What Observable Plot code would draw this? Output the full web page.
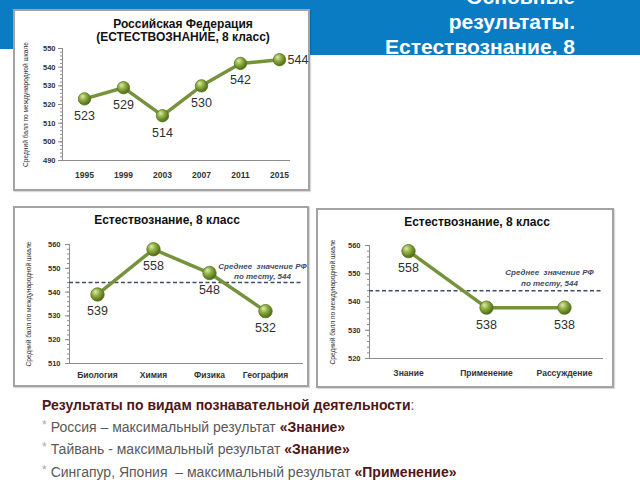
<!DOCTYPE html>
<html><head><meta charset="utf-8">
<script src="https://cdn.jsdelivr.net/npm/d3@7"></script>
<script src="https://cdn.jsdelivr.net/npm/@observablehq/plot@0.6"></script>
<style>
html,body{margin:0;padding:0}
body{width:640px;height:480px;position:relative;overflow:hidden;background:#fff;font-family:Arial,"Liberation Sans",sans-serif}
.blue{position:absolute;background:#0a7cc3}
.panel{position:absolute;box-sizing:border-box;border:2px solid #a3a3a3;background:#fff;box-shadow:1px 1px 1px rgba(0,0,0,.15)}
.ptitle{position:absolute;width:300px;text-align:center;font-weight:bold;font-size:12px;line-height:13px;color:#111}
.header{position:absolute;right:65px;top:-16.5px;text-align:right;color:#fff;font-weight:bold;font-size:21px;line-height:25px;white-space:nowrap}
.notes{position:absolute;left:42px;top:395px;font-size:14px;line-height:21.6px;color:#595959;white-space:nowrap}
.notes b{color:#4f1616}
.star{color:#a6a6a6;font-size:12px;position:relative;top:-3px;margin-right:4px}
.chart{position:absolute}
</style></head>
<body>
<svg width="0" height="0" style="position:absolute">
<defs>
<radialGradient id="ball" cx="38%" cy="35%" r="65%" fx="35%" fy="30%">
<stop offset="0" stop-color="#dcebaa"/>
<stop offset="0.45" stop-color="#8fae42"/>
<stop offset="1" stop-color="#4d6a15"/>
</radialGradient>
</defs>
</svg>
<div class="blue" style="left:0;top:0;width:640px;height:49px"></div>
<div class="blue" style="left:310px;top:0;width:330px;height:55px"></div>
<div class="header">Основные<br>результаты.<br>Естествознание, 8</div>

<div class="panel" style="left:13px;top:9px;width:297px;height:182px"></div>
<div class="panel" style="left:13px;top:206px;width:296px;height:181px"></div>
<div class="panel" style="left:316px;top:208px;width:298px;height:180px"></div>

<div class="ptitle" style="left:33px;top:18px">Российская Федерация<br>(ЕСТЕСТВОЗНАНИЕ, 8 класс)</div>
<div class="ptitle" style="left:17px;top:214px">Естествознание, 8 класс</div>
<div class="ptitle" style="left:327px;top:216px">Естествознание, 8 класс</div>

<div id="c1" class="chart" style="left:13px;top:9px"></div>
<div id="c2" class="chart" style="left:13px;top:206px"></div>
<div id="c3" class="chart" style="left:316px;top:208px"></div>

<div class="notes">
<div><b>Результаты по видам познавательной деятельности</b>:</div>
<div><span class="star">*</span>Россия – максимальный результат <b>«Знание»</b></div>
<div><span class="star">*</span>Тайвань - максимальный результат <b>«Знание»</b></div>
<div><span class="star">*</span>Сингапур, Япония &nbsp;– максимальный результат <b>«Применение»</b></div>
</div>

<script>
// ---- data ----
const years = ["1995", "1999", "2003", "2007", "2011", "2015"];
const rfScores = [523, 529, 514, 530, 542, 544];
const subjects = ["Биология", "Химия", "Физика", "География"];
const subjectScores = [539, 558, 548, 532];
const domains = ["Знание", "Применение", "Рассуждение"];
const domainScores = [558, 538, 538];
const rfMean = 544;
const meanNote = "Среднее  значение РФ\nпо тесту, 544";
const yTitle = "Средний балл по международной шкале";
const yTicks1 = [490, 500, 510, 520, 530, 540, 550];
const yTicks2 = [510, 520, 530, 540, 550, 560];
const yTicks3 = [520, 530, 540, 550, 560];

function buildChart(o) {
  const data = o.cats.map((c, i) => ({c, v: o.vals[i]}));
  const axisColor = "#8c8c8c";
  const lastIdx = data.length - 1;
  const below = o.rightLast ? data.filter((d, i) => i !== lastIdx) : data;
  const right = o.rightLast ? [data[lastIdx]] : [];
  const minor = d3.range(o.yDomain[0], o.yDomain[1] + 0.001, 2);
  const marks = [
    Plot.ruleY([o.yDomain[0]], {stroke: axisColor, strokeWidth: 1}),
    Plot.frame({anchor: "left", stroke: axisColor}),
    Plot.axisY({ticks: minor, tickSize: 2, tickFormat: () => "", stroke: axisColor, label: null}),
    Plot.axisY({ticks: o.yTicks, tickSize: 4, tickPadding: o.yPad, stroke: axisColor, fill: "#333",
      fontSize: 7.5, fontWeight: "bold", label: null}),
    Plot.axisX({tickSize: 0, tickPadding: o.xPad, fill: "#333", fontSize: o.xFont, fontWeight: "bold", label: null}),
    Plot.text([yTitle], {text: d => d, frameAnchor: "left", textAnchor: "middle", rotate: -90, dx: o.titleDx, fontSize: 6.6, fill: "#333"})
  ];
  if (o.mean !== undefined) {
    marks.push(Plot.ruleY([o.mean], {stroke: "#3e4c6b", strokeWidth: 1.5, strokeDasharray: "4,2.5"}));
    marks.push(Plot.text([{t: meanNote, v: o.mean}], {y: "v", text: "t", frameAnchor: "right", textAnchor: "middle",
      dx: o.noteDx, dy: o.noteDy, lineAnchor: "bottom", lineHeight: o.noteLH, fontSize: 8, fontStyle: "italic",
      fontWeight: "bold", fill: "#3e4c6b"}));
  }
  marks.push(
    Plot.line(data, {x: "c", y: "v", stroke: "#76933c", strokeWidth: 3.5}),
    Plot.dot(data, {x: "c", y: "v", r: o.r, fill: "url(#ball)", stroke: "#5a7621", strokeWidth: 0.8}),
    Plot.text(below, {x: "c", y: "v", text: d => String(d.v), dy: 17, fontSize: 12.5, fill: "#2f2f2f"}),
    Plot.text(right, {x: "c", y: "v", text: d => String(d.v), dx: 8, textAnchor: "start", fontSize: 12.5, fill: "#2f2f2f"})
  );
  return Plot.plot({
    width: o.w, height: o.h,
    marginTop: o.mt, marginBottom: o.mb, marginLeft: o.ml, marginRight: o.mr,
    style: {fontFamily: "Arial, 'Liberation Sans', sans-serif", background: "transparent", overflow: "visible"},
    x: {type: "point", domain: o.cats, padding: o.padding, align: o.align},
    y: {domain: o.yDomain},
    marks
  });
}

document.getElementById("c1").appendChild(buildChart({
  cats: years, vals: rfScores, yDomain: [490, 550], yTicks: yTicks1,
  w: 297, h: 182, mt: 39, mb: 31, ml: 49, mr: 20, padding: 0.42, align: 0.67,
  yPad: 3, xPad: 11, xFont: 8.5, titleDx: -37, r: 6.2, rightLast: true
}));
document.getElementById("c2").appendChild(buildChart({
  cats: subjects, vals: subjectScores, yDomain: [510, 560], yTicks: yTicks2,
  w: 296, h: 181, mt: 38, mb: 24, ml: 56, mr: 6, padding: 0.553, align: 0.43,
  yPad: 5, xPad: 8, xFont: 8.5, titleDx: -41, r: 6.7,
  mean: rfMean, noteDx: -41, noteDy: -4, noteLH: 1.25
}));
document.getElementById("c3").appendChild(buildChart({
  cats: domains, vals: domainScores, yDomain: [520, 560], yTicks: yTicks3,
  w: 298, h: 180, mt: 37, mb: 30, ml: 53, mr: 11, padding: 0.5, align: 0.5,
  yPad: 5, xPad: 11, xFont: 8.5, titleDx: -37, r: 6.7,
  mean: rfMean, noteDx: -54, noteDy: -5, noteLH: 1.35
}));
</script>
</body></html>
